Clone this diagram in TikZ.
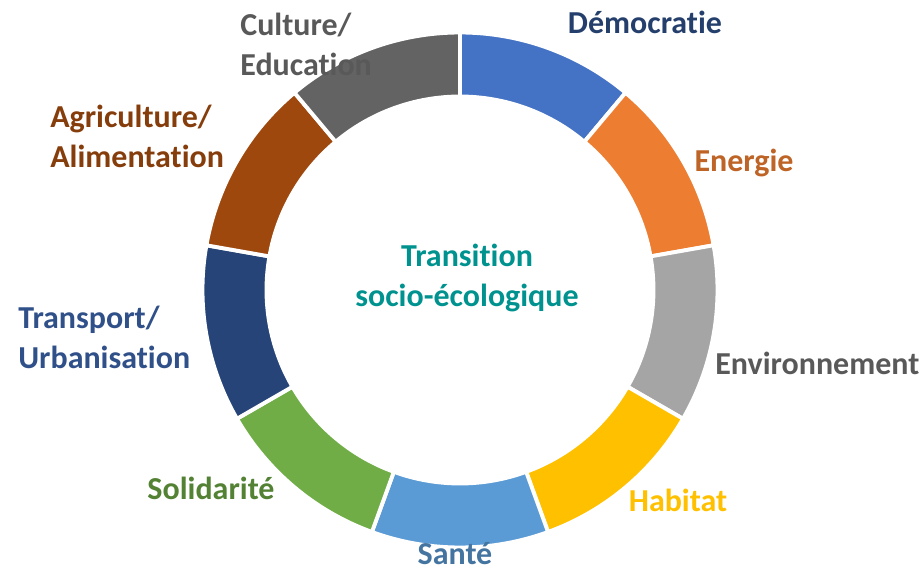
\documentclass[tikz,border=0pt]{standalone}
\usepackage{fontspec}
\setmainfont{Carlito}[Ligatures={NoCommon}]
\definecolor{demo}{HTML}{4472C4}
\definecolor{ener}{HTML}{ED7D31}
\definecolor{envi}{HTML}{A5A5A5}
\definecolor{habi}{HTML}{FFC000}
\definecolor{sant}{HTML}{5B9BD5}
\definecolor{soli}{HTML}{70AD47}
\definecolor{tran}{HTML}{264478}
\definecolor{agri}{HTML}{9E480E}
\definecolor{cult}{HTML}{636363}
\definecolor{centretxt}{HTML}{00928F}
\tikzset{
    seg/.style={draw=white, line width=2.2pt},
    lbl/.style={font=\bfseries\fontsize{18.2}{22.8}\selectfont, inner sep=0pt, align=left},
}
\begin{document}
\begin{tikzpicture}
    \useasboundingbox (-9.2,-5.66) rectangle (9.24,5.8);
    % Ring, clockwise from the top
    \foreach \c [count=\i from 0] in {demo,ener,envi,habi,sant,soli,tran,agri,cult} {
        \pgfmathsetmacro{\a}{90-40*\i}
        \pgfmathsetmacro{\b}{50-40*\i}
        \fill[\c, seg] (\a:5.15) arc (\a:\b:5.15) -- (\b:3.87) arc (\b:\a:3.87) -- cycle;
    }
    % Centre
    \node[lbl, align=center, text=centretxt] (centre) at (0.14,0.24) {Transition\\socio-écologique};
    % Labels
    \node[lbl, text=demo!55!black] (democratie) at (3.7,5.36) {Démocratie};
    \node[lbl, text=ener!80!black] (energie) at (5.68,2.54) {Energie};
    \node[lbl, text=black!65, anchor=west] (environnement) at (5.1,-1.46) {Environnement};
    \node[lbl, text=habi] (habitat) at (4.36,-4.2) {Habitat};
    \node[lbl, text=sant!75!black] (sante) at (-0.1,-5.28) {Santé};
    \node[lbl, text=soli!75!black] (solidarite) at (-4.98,-3.96) {Solidarité};
    \node[lbl, text=demo!70!black, anchor=west] (transport) at (-8.84,-0.94) {Transport/\\Urbanisation};
    \node[lbl, text=agri!85!black, anchor=west] (agriculture) at (-8.2,3.08) {Agriculture/\\Alimentation};
    \node[lbl, text=black!65, anchor=west] (culture) at (-4.4,4.92) {Culture/\\Education};
\end{tikzpicture}
\end{document}
